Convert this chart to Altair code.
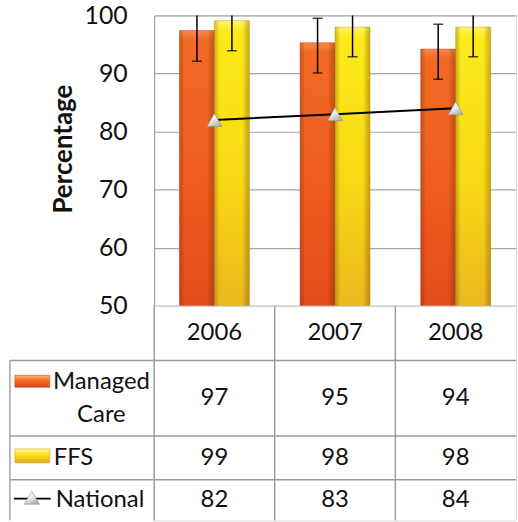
import altair as alt
import pandas as pd

# ---------------- data ----------------
years = ["2006", "2007", "2008"]
series = ["Managed Care", "FFS"]
row_labels = ["Managed Care", "FFS", "National"]
managed_care = [97.4, 95.3, 94.2]
ffs = [99.1, 98.0, 98.0]
national = [82, 83, 84]
mc_err_low = [92.1, 90.1, 89.0]
mc_err_high = [102.7, 99.5, 98.5]
ffs_err_low = [93.9, 92.9, 92.9]
ffs_err_high = [104.3, 103.1, 103.1]
y_ticks = [50, 60, 70, 80, 90, 100]

# ---------------- style ----------------
FONT = "Lato"
TXT = "#111111"
GRID = "#A6A6A6"
LINE = "#9A9A9A"


def grad(stops, x1=0, y1=0, x2=0, y2=1):
    return alt.Gradient(
        gradient="linear", x1=x1, y1=y1, x2=x2, y2=y2,
        stops=[alt.GradientStop(color=c, offset=o) for c, o in stops],
    )


orange_fill = grad([("#F8894A", 0), ("#F26A24", 0.035), ("#EE5C1F", 0.55), ("#E24C1B", 1)])
yellow_fill = grad([("#FFF46A", 0), ("#FDEA1A", 0.035), ("#F8D914", 0.55), ("#EBB81E", 1)])
side_shade = grad([("rgba(110,40,0,0.28)", 0), ("rgba(0,0,0,0)", 0.14),
                   ("rgba(0,0,0,0)", 0.8), ("rgba(110,40,0,0.32)", 1)], x1=0, y1=0, x2=1, y2=0)
orange_key = grad([("#FBB27A", 0), ("#F5772E", 0.35), ("#EE5F20", 0.6), ("#D8461A", 1)])
yellow_key = grad([("#FFF59A", 0), ("#FBE52A", 0.35), ("#F5D515", 0.6), ("#D9AE1C", 1)])
tri_fill = grad([("#FFFFFF", 0), ("#EDEDED", 0.45), ("#A9A9A9", 1)], x1=0.2, y1=0, x2=0.8, y2=1)

bars = pd.DataFrame({
    "year": years * 2,
    "series": [series[0]] * 3 + [series[1]] * 3,
    "value": managed_care + ffs,
    "lo": mc_err_low + ffs_err_low,
    "hi": mc_err_high + ffs_err_high,
})
nat = pd.DataFrame({"year": years, "value": national})

# ---------------- top chart ----------------
xs = alt.Scale(domain=years, paddingInner=0.42, paddingOuter=0.21)
ys = alt.Scale(domain=[50, 100], nice=False, zero=False)
X = alt.X("year:N", scale=xs, axis=None)
XO = alt.XOffset("series:N", scale=alt.Scale(domain=series))
yaxis = alt.Axis(
    values=y_ticks, title="Percentage", titleFont=FONT, titleFontSize=26,
    titleFontWeight="bold", titleColor=TXT, titleX=-78, titleY=134,
    labelFont=FONT, labelFontSize=25, labelColor=TXT, labelPadding=27,
    labelFlush=False, ticks=False, domainColor=GRID, domainWidth=1.2,
    grid=True, gridColor=GRID, gridWidth=1.2,
)


def Y(field):
    return alt.Y(f"{field}:Q", scale=ys, axis=yaxis)


base = alt.Chart(bars)
mc_bars = base.transform_filter(alt.datum.series == series[0]).mark_bar(
    fill=orange_fill, stroke="#C9481A", strokeWidth=0.5
).encode(x=X, xOffset=XO, y=Y("value"), y2=alt.Y2(datum=50))
ffs_bars = base.transform_filter(alt.datum.series == series[1]).mark_bar(
    fill=yellow_fill, stroke="#C9A21E", strokeWidth=0.5
).encode(x=X, xOffset=XO, y=Y("value"), y2=alt.Y2(datum=50))
shade = base.mark_bar(fill=side_shade).encode(x=X, xOffset=XO, y=Y("value"), y2=alt.Y2(datum=50))
err = base.mark_rule(color="black", strokeWidth=1.5, clip=True).encode(
    x=X, xOffset=XO, y=Y("lo"), y2="hi:Q")
cap_lo = base.mark_tick(color="black", thickness=1.5, size=10, clip=True).encode(
    x=X, xOffset=XO, y=Y("lo"))
cap_hi = base.mark_tick(color="black", thickness=1.5, size=10, clip=True).encode(
    x=X, xOffset=XO, y=Y("hi"))
nat_line = alt.Chart(nat).mark_line(color="black", strokeWidth=2).encode(x=X, y=Y("value"))
nat_pts = alt.Chart(nat).mark_point(
    shape="triangle-up", size=230, filled=True, fill=tri_fill, stroke="#8C8C8C",
    strokeWidth=0.6, opacity=1
).encode(x=X, y=Y("value"))

top = alt.layer(mc_bars, ffs_bars, shade, err, cap_lo, cap_hi, nat_line, nat_pts).properties(
    width=364, height=292)

# ---------------- data table ----------------
xt = alt.Scale(domain=[-1, 0, 3], range=[-145, 0, 364], nice=False, zero=False)
yt = alt.Scale(domain=[0, 1, 2, 3, 4], range=[0, 55, 131, 175, 216], nice=False, zero=False)

rules = pd.DataFrame({
    "x": [-1, 0, 1, 2, -1, -1, -1],
    "x2": [-1, 0, 1, 2, 3, 3, 3],
    "y": [1, 0, 0, 0, 1, 2, 3],
    "y2": [4, 4, 4, 4, 1, 2, 3],
})
cell_rows = []
for i, yr in enumerate(years):
    cell_rows.append({"c": i + 0.5, "r": 0.5, "t": yr})
    cell_rows.append({"c": i + 0.5, "r": 1.5, "t": f"{managed_care[i]:.0f}"})
    cell_rows.append({"c": i + 0.5, "r": 2.5, "t": f"{ffs[i]:.0f}"})
    cell_rows.append({"c": i + 0.5, "r": 3.5, "t": f"{national[i]:.0f}"})
cells = pd.DataFrame(cell_rows)
one = pd.DataFrame({"k": [0]})

XT = lambda d: alt.X(datum=d, scale=xt, axis=None)
YT = lambda d: alt.Y(datum=d, scale=yt, axis=None)

grid_rules = alt.Chart(rules).mark_rule(color=LINE, strokeWidth=1.4).encode(
    x=alt.X("x:Q", scale=xt, axis=None), x2="x2:Q",
    y=alt.Y("y:Q", scale=yt, axis=None), y2="y2:Q")
cell_text = alt.Chart(cells).mark_text(
    font=FONT, fontSize=24, color=TXT, align="center", baseline="middle"
).encode(x=alt.X("c:Q", scale=xt, axis=None), y=alt.Y("r:Q", scale=yt, axis=None), text="t:N")

lab_mc = alt.Chart(one).mark_text(
    font=FONT, fontSize=24, color=TXT, align="center", baseline="middle",
    lineBreak=" ", lineHeight=33, dx=92, dy=-16.5
).encode(x=XT(-1), y=YT(1.5), text=alt.value(row_labels[0]))
lab_ffs = alt.Chart(one).mark_text(
    font=FONT, fontSize=24, color=TXT, align="left", baseline="middle", dx=44
).encode(x=XT(-1), y=YT(2.5), text=alt.value(row_labels[1]))
lab_nat = alt.Chart(one).mark_text(
    font=FONT, fontSize=24, color=TXT, align="left", baseline="middle", dx=46
).encode(x=XT(-1), y=YT(3.5), text=alt.value(row_labels[2]))

key_mc = alt.Chart(one).mark_rect(
    fill=orange_key, stroke="#C8461A", strokeWidth=0.6,
    xOffset=5, x2Offset=40, yOffset=15, y2Offset=27
).encode(x=XT(-1), x2=alt.X2(datum=-1), y=YT(1), y2=alt.Y2(datum=1))
key_ffs = alt.Chart(one).mark_rect(
    fill=yellow_key, stroke="#C9A21E", strokeWidth=0.6,
    xOffset=5, x2Offset=40, yOffset=13, y2Offset=27
).encode(x=XT(-1), x2=alt.X2(datum=-1), y=YT(2), y2=alt.Y2(datum=2))
key_nat_line = alt.Chart(one).mark_rule(
    color="black", strokeWidth=2, xOffset=4, x2Offset=41, yOffset=19, y2Offset=19
).encode(x=XT(-1), x2=alt.X2(datum=-1), y=YT(3), y2=alt.Y2(datum=3))
key_nat_pt = alt.Chart(one).mark_point(
    shape="triangle-up", size=230, filled=True, fill=tri_fill, stroke="#8C8C8C",
    strokeWidth=0.6, opacity=1, xOffset=22, yOffset=18
).encode(x=XT(-1), y=YT(3))

table = alt.layer(
    grid_rules, cell_text, lab_mc, lab_ffs, lab_nat,
    key_mc, key_ffs, key_nat_line, key_nat_pt
).properties(width=364, height=216)

chart = alt.vconcat(top, table, spacing=0, bounds="flush").properties(
    padding={"left": 8, "top": 1, "right": 0, "bottom": 0}
).configure_view(strokeWidth=0).configure(background="white")

chart.save("out.html", embed_options={"renderer": "svg", "actions": False})
